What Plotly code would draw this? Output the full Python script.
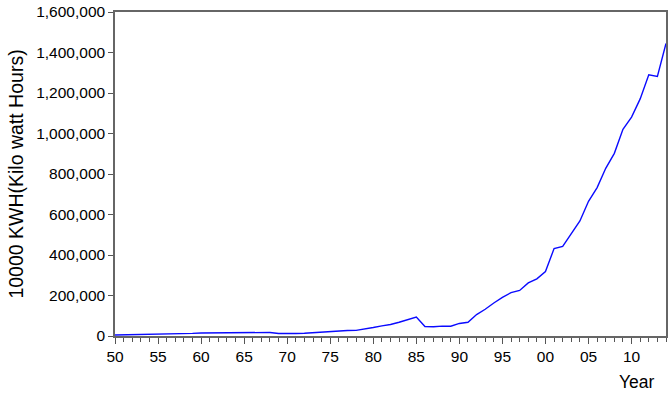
import plotly.graph_objects as go

years = list(range(1950, 2015))
kwh = [
    5000, 5500, 6000, 6500, 7000, 7500, 8500, 9500, 11000, 13000,
    15000, 15500, 16500, 17500, 18500, 19500, 19500, 19000, 17500, 12500,
    11500, 12500, 13500, 16000, 19000, 22000, 27000, 27500, 28000, 34000,
    42000, 50000, 57000, 68000, 80000, 94000, 47000, 45500, 49000, 48000,
    62000, 68000, 106000, 132000, 163000, 191000, 214000, 225000, 262000, 282000,
    318000, 432000, 442000, 502000, 568000, 665000, 733000, 828000, 902000, 1021000,
    1081000, 1171000, 1290000, 1282000, 1445000,
]
tick_years = [1950, 1955, 1960, 1965, 1970, 1975, 1980, 1985, 1990, 1995, 2000, 2005, 2010]
tick_text = ["50", "55", "60", "65", "70", "75", "80", "85", "90", "95", "00", "05", "10"]

FONT = "Liberation Sans, Arial, sans-serif"

fig = go.Figure()
fig.add_trace(go.Scatter(
    x=years, y=kwh, mode="lines",
    line=dict(color="#0a0aff", width=1.4),
    showlegend=False,
))

fig.update_layout(
    width=671, height=393,
    margin=dict(l=115, r=3, t=9, b=57),
    paper_bgcolor="white", plot_bgcolor="white",
    font=dict(family=FONT, size=15.5, color="black"),
)
fig.update_xaxes(
    range=[1950, 2014],
    tickmode="array", tickvals=tick_years, ticktext=tick_text,
    ticks="outside", ticklen=6, tickcolor="#555", tickwidth=1,
    minor=dict(dtick=1, tick0=1950, ticks="outside", ticklen=4, tickcolor="#555", showgrid=False),
    showgrid=False, zeroline=False,
    showline=True, linecolor="#666", linewidth=1.5, mirror=True,
    tickfont=dict(size=15.5),
)
fig.update_yaxes(
    range=[0, 1600000], dtick=200000, tickformat=",d",
    ticks="outside", ticklen=5, tickcolor="#555", tickwidth=1,
    showgrid=False, zeroline=False,
    showline=True, linecolor="#666", linewidth=1.5, mirror=True,
    tickfont=dict(size=15.5),
    title=dict(text="10000 KWH(Kilo watt Hours)", font=dict(size=19.5), standoff=7),
)
fig.add_annotation(
    text="Year", xref="paper", yref="paper", x=0.9476, y=-0.142,
    xanchor="center", yanchor="middle", showarrow=False,
    font=dict(size=17.5),
)

fig.write_html(
    "out.html",
    config={"displayModeBar": False},
    post_script="document.body.style.margin='0';document.body.style.padding='0';",
)
